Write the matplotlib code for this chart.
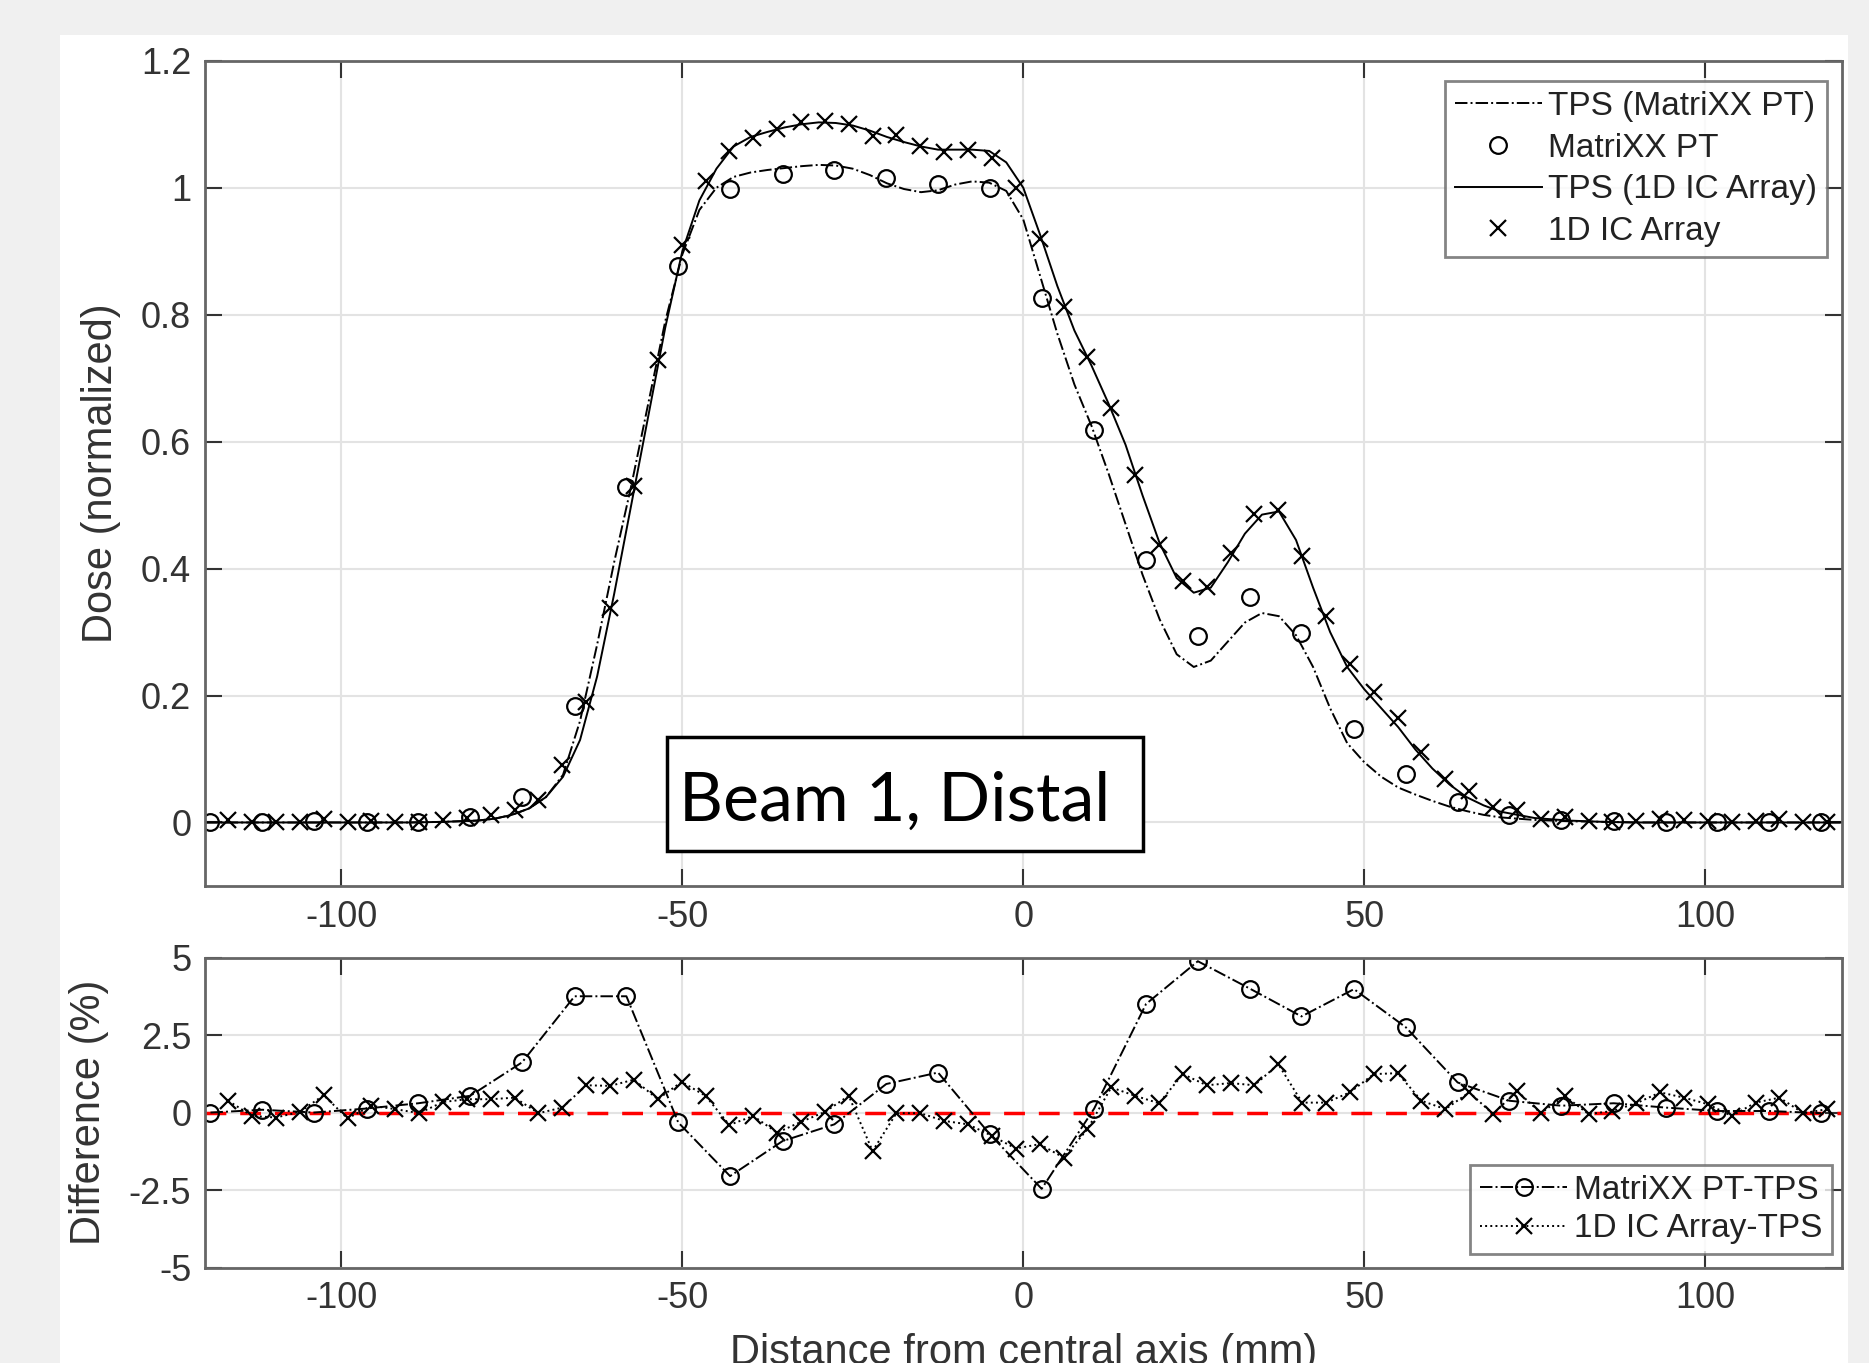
import numpy as np
import matplotlib
matplotlib.use("Agg")
import matplotlib.pyplot as plt
from matplotlib.patches import Rectangle

plt.rcParams["font.family"] = ["Liberation Sans", "DejaVu Sans"]
plt.rcParams["axes.unicode_minus"] = False

# ----------------------------
# Data
# ----------------------------
# MatriXX PT detector positions (mm) and measured dose
matrixx_x = [-119.2, -111.6, -104.0, -96.3, -88.7, -81.1, -73.5, -65.8, -58.2, -50.6,
             -43.0, -35.3, -27.7, -20.1, -12.5, -4.9, 2.7, 10.4, 18.0, 25.6,
             33.2, 40.8, 48.5, 56.1, 63.7, 71.3, 78.9, 86.6, 94.2, 101.8,
             109.4, 117.0]
matrixx_dose = [0.0, 0.0, 0.002, 0.0, 0.0, 0.008, 0.040, 0.184, 0.529, 0.876,
                0.998, 1.022, 1.028, 1.015, 1.006, 1.000, 0.827, 0.619, 0.413, 0.293,
                0.356, 0.298, 0.148, 0.077, 0.032, 0.011, 0.004, 0.002, 0.0, 0.0,
                0.0, 0.0]
matrixx_diff = [0.0, 0.09, 0.0, 0.13, 0.30, 0.54, 1.62, 3.75, 3.75, -0.32,
                -2.05, -0.92, -0.38, 0.92, 1.29, -0.70, -2.46, 0.13, 3.50, 4.88,
                4.00, 3.10, 3.98, 2.75, 0.97, 0.38, 0.22, 0.30, 0.16, 0.05,
                0.05, -0.02]

# 1D IC array detector positions (mm), measured dose and difference
ic_x = [-116.6, -113.1, -109.6, -106.1, -102.6, -99.1, -95.6, -92.1, -88.6, -85.1,
        -81.6, -78.1, -74.6, -71.1, -67.6, -64.1, -60.6, -57.1, -53.6, -50.1,
        -46.6, -43.1, -39.6, -36.1, -32.6, -29.1, -25.6, -22.1, -18.6, -15.1,
        -11.6, -8.1, -4.6, -1.1, 2.4, 5.9, 9.4, 12.9, 16.4, 19.9,
        23.4, 26.9, 30.4, 33.9, 37.4, 40.9, 44.4, 47.9, 51.4, 54.9,
        58.4, 61.9, 65.4, 68.9, 72.4, 75.9, 79.4, 82.9, 86.4, 89.9,
        93.4, 96.9, 100.4, 103.9, 107.4, 110.9, 114.4, 117.9]
ic_dose = [0.004, 0.0, 0.0, 0.0, 0.006, 0.0, 0.002, 0.001, 0.0, 0.004,
           0.007, 0.012, 0.020, 0.036, 0.090, 0.190, 0.338, 0.530, 0.728, 0.910,
           1.011, 1.058, 1.079, 1.092, 1.103, 1.105, 1.101, 1.081, 1.083, 1.066,
           1.056, 1.060, 1.047, 1.000, 0.919, 0.812, 0.734, 0.653, 0.548, 0.437,
           0.381, 0.371, 0.424, 0.486, 0.493, 0.420, 0.325, 0.250, 0.206, 0.165,
           0.111, 0.068, 0.049, 0.024, 0.019, 0.006, 0.008, 0.002, 0.0, 0.003,
           0.006, 0.004, 0.003, 0.0, 0.003, 0.005, 0.0, 0.001]
ic_diff = [0.38, -0.11, -0.16, 0.02, 0.56, -0.19, 0.22, 0.11, -0.02, 0.34,
           0.43, 0.43, 0.48, -0.02, 0.16, 0.88, 0.86, 1.06, 0.43, 0.99,
           0.54, -0.40, -0.11, -0.65, -0.30, 0.02, 0.54, -1.24, -0.02, -0.02,
           -0.27, -0.38, -0.75, -1.16, -1.02, -1.45, -0.54, 0.81, 0.54, 0.30,
           1.24, 0.88, 0.95, 0.88, 1.56, 0.32, 0.32, 0.65, 1.24, 1.27,
           0.38, 0.11, 0.65, -0.05, 0.70, -0.02, 0.54, -0.05, 0.05, 0.30,
           0.65, 0.48, 0.27, -0.11, 0.32, 0.48, -0.02, 0.11]

# TPS calculated profiles
tps_x = [-120, -110, -100, -90, -85, -80, -77.5, -75, -72.5, -70,
         -67.5, -65, -62.5, -60, -57.5, -55, -52.5, -50, -47.5, -45,
         -42.5, -40, -37.5, -35, -32.5, -30, -27.5, -25, -22.5, -20,
         -17.5, -15, -12.5, -10, -7.5, -5, -2.5, 0, 2.5, 5,
         7.5, 10, 12.5, 15, 17.5, 20, 22.5, 25, 27.5, 30,
         32.5, 35, 37.5, 40, 42.5, 45, 47.5, 50, 52.5, 55,
         57.5, 60, 62.5, 65, 67.5, 70, 75, 80, 85, 90,
         100, 110, 120]
tps_matrixx = [0.0, 0.0, 0.0, 0.0, 0.001, 0.003, 0.006, 0.012, 0.022, 0.040,
               0.075, 0.160, 0.280, 0.410, 0.530, 0.660, 0.790, 0.895, 0.965, 1.000,
               1.017, 1.024, 1.028, 1.031, 1.034, 1.036, 1.035, 1.030, 1.020, 1.007,
               0.998, 0.993, 0.996, 1.005, 1.010, 1.008, 0.995, 0.950, 0.860, 0.770,
               0.690, 0.625, 0.550, 0.470, 0.390, 0.320, 0.265, 0.245, 0.255, 0.285,
               0.315, 0.330, 0.325, 0.295, 0.245, 0.180, 0.125, 0.095, 0.072, 0.055,
               0.044, 0.034, 0.025, 0.018, 0.012, 0.008, 0.004, 0.002, 0.001, 0.0,
               0.0, 0.0, 0.0]
tps_ic = [0.0, 0.0, 0.0, 0.0, 0.001, 0.003, 0.006, 0.012, 0.022, 0.040,
          0.072, 0.130, 0.230, 0.360, 0.500, 0.640, 0.780, 0.900, 0.980, 1.030,
          1.065, 1.080, 1.088, 1.095, 1.100, 1.103, 1.102, 1.098, 1.090, 1.080,
          1.072, 1.065, 1.060, 1.060, 1.060, 1.058, 1.040, 1.000, 0.925, 0.845,
          0.775, 0.720, 0.660, 0.595, 0.515, 0.440, 0.385, 0.362, 0.370, 0.410,
          0.455, 0.485, 0.490, 0.445, 0.370, 0.300, 0.245, 0.210, 0.180, 0.150,
          0.115, 0.085, 0.060, 0.040, 0.027, 0.017, 0.007, 0.003, 0.001, 0.0,
          0.0, 0.0, 0.0]

xticks = [-100, -50, 0, 50, 100]
dose_ticks = [0, 0.2, 0.4, 0.6, 0.8, 1.0, 1.2]
dose_labels = ["0", "0.2", "0.4", "0.6", "0.8", "1", "1.2"]
diff_ticks = [-5, -2.5, 0, 2.5, 5]
diff_labels = ["-5", "-2.5", "0", "2.5", "5"]

# ----------------------------
# Figure
# ----------------------------
fig = plt.figure(figsize=(18.69, 13.63), dpi=100, facecolor="#f0f0f0")
fig.add_artist(Rectangle((0.032, 0.0), 0.957, 0.974, transform=fig.transFigure,
                         facecolor="white", edgecolor="none", zorder=-10))

ax1 = fig.add_axes([0.1097, 0.350, 0.8756, 0.6054])
ax2 = fig.add_axes([0.1097, 0.070, 0.8756, 0.2275])

tick_col = "#333333"
for ax in (ax1, ax2):
    ax.set_xlim(-120, 120)
    ax.set_xticks(xticks)
    ax.grid(True, color="#e3e3e3", linewidth=1.5)
    ax.set_axisbelow(True)
    ax.tick_params(direction="in", length=12, width=1.5, top=True, right=True,
                   labelsize=26, colors=tick_col, pad=10)
    for s in ax.spines.values():
        s.set_color("#666666")
        s.set_linewidth(2)

# Top panel: dose profiles
ax1.plot(tps_x, tps_matrixx, "-.", color="black", lw=1.4, label="TPS (MatriXX PT)")
ax1.plot(matrixx_x, matrixx_dose, "o", color="black", mfc="none", ms=12, mew=1.6,
         label="MatriXX PT")
ax1.plot(tps_x, tps_ic, "-", color="black", lw=1.4, label="TPS (1D IC Array)")
ax1.plot(ic_x, ic_dose, "x", color="black", ms=11, mew=1.6, label="1D IC Array")
ax1.set_ylim(-0.1, 1.2)
ax1.set_yticks(dose_ticks)
ax1.set_yticklabels(dose_labels)
ax1.set_ylabel("Dose (normalized)", fontsize=30, color=tick_col, labelpad=14)
leg1 = ax1.legend(loc="upper right", bbox_to_anchor=(0.9913, 0.9754), borderaxespad=0,
                  fontsize=24, frameon=True, fancybox=False, edgecolor="#666666",
                  handlelength=2.6, handletextpad=0.2, labelspacing=0.32,
                  borderpad=0.3)
leg1.get_frame().set_linewidth(2)
for t in leg1.get_texts():
    t.set_color("#222222")

# Label box
fig.add_artist(Rectangle((0.3571, 0.3753), 0.2545, 0.084, transform=fig.transFigure,
                         facecolor="white", edgecolor="black", linewidth=2.5, zorder=5))
fig.text(0.3635, 0.398, "Beam 1, Distal", fontsize=49, family="Lato",
         va="baseline", ha="left", zorder=6)

# Bottom panel: differences
ax2.axhline(0, color="red", linestyle=(0, (6, 4)), lw=2.5, zorder=1)
ax2.plot(matrixx_x, matrixx_diff, "-.o", color="black", mfc="none", ms=12, mew=1.6,
         lw=1.4, label="MatriXX PT-TPS")
ax2.plot(ic_x, ic_diff, ":x", color="black", ms=11, mew=1.6, lw=1.4,
         label="1D IC Array-TPS")
ax2.set_ylim(-5, 5)
ax2.set_yticks(diff_ticks)
ax2.set_yticklabels(diff_labels)
ax2.set_ylabel("Difference (%)", fontsize=30, color=tick_col, labelpad=14)
ax2.set_xlabel("Distance from central axis (mm)", fontsize=30, color=tick_col,
               labelpad=12)
leg2 = ax2.legend(loc="lower right", bbox_to_anchor=(0.9942, 0.0423), borderaxespad=0,
                  fontsize=24, frameon=True, fancybox=False, edgecolor="#666666",
                  handlelength=2.6, handletextpad=0.2, labelspacing=0.22,
                  borderpad=0.3)
leg2.get_frame().set_linewidth(2)
for t in leg2.get_texts():
    t.set_color("#222222")

fig.savefig("out.png", dpi=100, facecolor=fig.get_facecolor())
